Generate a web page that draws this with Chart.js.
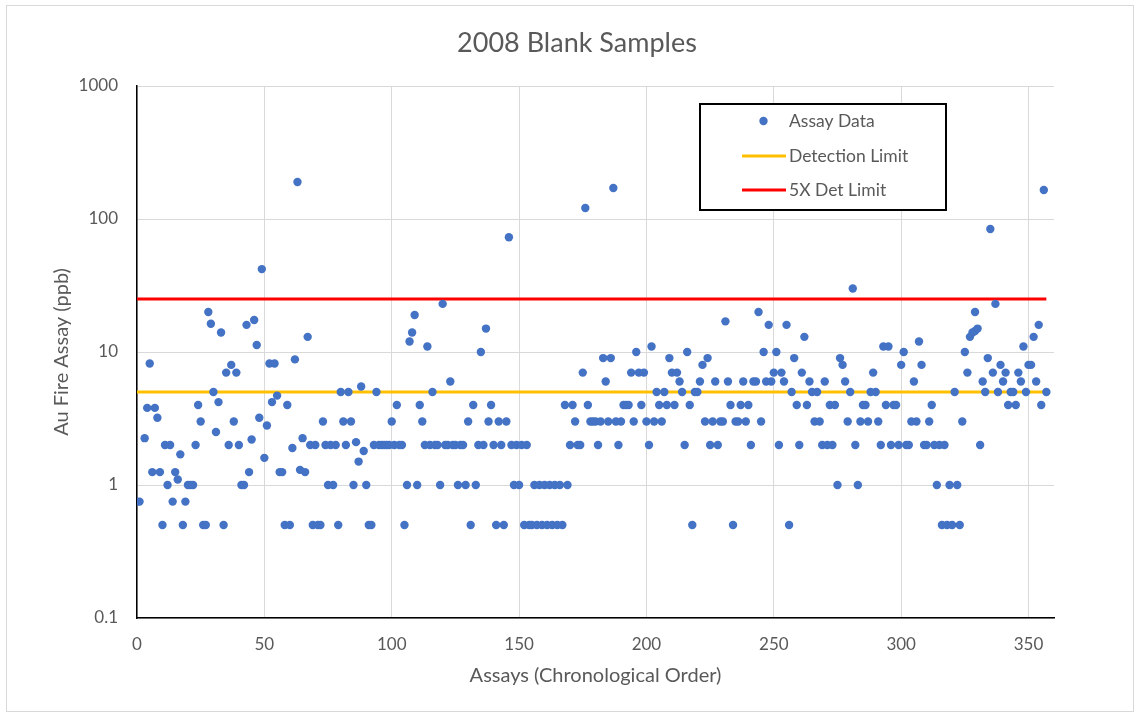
<!DOCTYPE html>
<html><head><meta charset="utf-8">
<script src="https://cdn.jsdelivr.net/npm/chart.js@4.4.0/dist/chart.umd.min.js"></script>
<style>html,body{margin:0;padding:0;background:#fff;}canvas{display:block}</style>
</head><body><canvas id="c" width="1140" height="717"></canvas>
<script>
const assayNo = [0,1,3,4,5,6,7,8,9,
10,11,12,13,14,15,16,17,18,19,
20,21,22,23,24,25,26,27,28,29,
30,31,32,33,34,35,36,37,38,39,
40,41,42,43,44,45,46,47,48,49,
50,51,52,53,54,55,56,57,58,59,
60,61,62,63,64,65,66,67,68,69,
70,71,72,73,74,75,76,77,78,79,
80,81,82,83,84,85,86,87,88,89,
90,91,92,93,94,95,96,97,98,99,
100,101,102,103,104,105,106,107,108,109,
110,111,112,113,114,115,116,117,118,119,
120,121,122,123,124,125,126,127,128,129,
130,131,132,133,134,135,136,137,138,139,
140,141,142,143,144,145,146,147,148,149,
150,151,152,153,154,155,156,157,158,159,
160,161,162,163,164,165,166,167,168,169,
170,171,172,173,174,175,176,177,178,179,
180,181,182,183,184,185,186,187,188,189,
190,191,192,193,194,195,196,197,198,199,
200,201,202,203,204,205,206,207,208,209,
210,211,212,213,214,215,216,217,218,219,
220,221,222,223,224,225,226,227,228,229,
230,231,232,233,234,235,236,237,238,239,
240,241,242,243,244,245,246,247,248,249,
250,251,252,253,254,255,256,257,258,259,
260,261,262,263,264,265,266,267,268,269,
270,271,272,273,274,275,276,277,278,279,
280,281,282,283,284,285,286,287,288,289,
290,291,292,293,294,295,296,297,298,299,
300,301,302,303,304,305,306,307,308,309,
310,311,312,313,314,315,316,317,318,319,
320,321,322,323,324,325,326,327,328,
329,329,
330,331,332,333,334,335,336,337,338,339,
340,341,342,343,344,345,346,347,348,349,
350,351,352,353,354,355,356,357];
const auPpb = [0.75,0.75,2.25,3.8,8.2,1.25,3.8,3.2,1.25,
0.5,2,1,2,0.75,1.25,1.1,1.7,0.5,0.75,
1,1,1,2,4,3,0.5,0.5,20,16.3,
5,2.5,4.2,14,0.5,7,2,8,3,7,
2,1,1,16,1.25,2.2,17.4,11.3,3.2,42,
1.6,2.8,8.2,4.2,8.2,4.7,1.25,1.25,0.5,4,
0.5,1.9,8.8,190,1.3,2.25,1.25,13,2,0.5,
2,0.5,0.5,3,2,1,2,1,2,0.5,
5,3,2,5,3,1,2.1,1.5,5.5,1.8,
1,0.5,0.5,2,5,2,2,2,2,2,
3,2,4,2,2,0.5,1,12,14,19,
1,4,3,2,11,2,5,2,2,1,
23,2,2,6,2,2,1,2,2,1,
3,0.5,4,1,2,10,2,15,3,4,
2,0.5,3,2,0.5,3,73,2,1,2,
1,2,0.5,2,0.5,0.5,1,0.5,1,0.5,
1,0.5,1,0.5,1,0.5,1,0.5,4,1,
2,4,3,2,2,7,121,4,3,3,
3,2,3,9,6,3,9,171,3,2,
3,4,4,4,7,3,10,7,4,7,
3,2,11,3,5,4,3,5,4,9,
7,4,7,6,5,2,10,4,0.5,5,
5,6,8,3,9,2,3,6,2,3,
3,17,6,4,0.5,3,3,4,6,3,
4,2,6,6,20,3,10,6,16,6,
7,10,2,7,6,16,0.5,5,9,4,
2,7,13,4,6,5,3,5,3,2,
6,2,4,2,4,1,9,8,6,3,
5,30,2,1,3,4,4,3,5,7,
5,3,2,11,4,11,2,4,4,2,
8,10,2,2,3,6,3,12,8,2,
2,3,4,2,1,2,0.5,2,0.5,1,
0.5,5,1,0.5,3,10,7,13,14,
14.4,20,
15,2,6,5,9,84,7,23,5,8,
6,7,4,5,5,4,7,6,11,5,
8,8,13,6,16,4,165,5];
const detectionLimit = 5;
const fiveXDetLimit = 25;
const limitSpan = [0, 357];
const xTickValues = [0,50,100,150,200,250,300,350];
const yTickValues = [0.1,1,10,100,1000];
const seriesNames = ['Assay Data','Detection Limit','5X Det Limit'];
const chartTitle = '2008 Blank Samples';

const TXT = '#595959';
const FONT = 'Lato';
Chart.defaults.font.family = FONT;
Chart.defaults.color = TXT;

const frame = {
  id:'frame',
  beforeDraw(chart){
    const ctx = chart.ctx;
    ctx.save();
    ctx.fillStyle = '#fff';
    ctx.fillRect(0,0,chart.width,chart.height);
    ctx.strokeStyle = '#d9d9d9';
    ctx.lineWidth = 1;
    ctx.strokeRect(6.5,5.5,1127,706);
    ctx.fillStyle = TXT;
    ctx.font = '27px ' + FONT;
    ctx.textAlign = 'center';
    ctx.textBaseline = 'middle';
    ctx.fillText(chartTitle, 577, 43);
    ctx.restore();
  }
};

const legendBox = {
  id:'legendBox',
  afterDraw(chart){
    const ctx = chart.ctx;
    const ds = chart.data.datasets;
    const x0 = 700, y0 = 104, w = 246, h = 106;
    ctx.save();
    ctx.fillStyle = '#fff';
    ctx.fillRect(x0,y0,w,h);
    ctx.strokeStyle = '#000';
    ctx.lineWidth = 2;
    ctx.strokeRect(x0,y0,w,h);
    const rows = [121,156,190];
    ctx.fillStyle = ds[0].backgroundColor;
    ctx.beginPath(); ctx.arc(763.5, rows[0], 4.2, 0, Math.PI*2); ctx.fill();
    ctx.lineWidth = 3;
    ctx.strokeStyle = ds[1].borderColor;
    ctx.beginPath(); ctx.moveTo(742, rows[1]); ctx.lineTo(786, rows[1]); ctx.stroke();
    ctx.strokeStyle = ds[2].borderColor;
    ctx.beginPath(); ctx.moveTo(742, rows[2]); ctx.lineTo(786, rows[2]); ctx.stroke();
    ctx.fillStyle = TXT;
    ctx.font = '17.5px ' + FONT;
    ctx.textBaseline = 'middle';
    ctx.textAlign = 'left';
    ds.forEach((d,i)=> ctx.fillText(d.label, 789, rows[i]));
    ctx.restore();
  }
};

new Chart(document.getElementById('c'), {
  type:'scatter',
  data:{
    datasets:[
      {
        label: seriesNames[0],
        data: assayNo.map((x,i)=>({x:x, y:auPpb[i]})),
        backgroundColor:'#4472C4',
        borderColor:'#4472C4',
        borderWidth:0,
        pointRadius:4.2,
        pointHoverRadius:4.2,
        order:0
      },
      {
        label: seriesNames[1],
        type:'line',
        data: limitSpan.map(x=>({x:x, y:detectionLimit})),
        borderColor:'#FFC000',
        borderWidth:3,
        pointRadius:0,
        showLine:true,
        order:1
      },
      {
        label: seriesNames[2],
        type:'line',
        data: limitSpan.map(x=>({x:x, y:fiveXDetLimit})),
        borderColor:'#FF0000',
        borderWidth:3,
        pointRadius:0,
        showLine:true,
        order:2
      }
    ]
  },
  options:{
    responsive:false,
    animation:false,
    devicePixelRatio:1,
    layout:{padding:{left:46, right:86, top:86, bottom:25}},
    plugins:{
      legend:{display:false},
      tooltip:{enabled:false},
      title:{display:false}
    },
    scales:{
      x:{
        type:'linear', min:0, max:360,
        afterBuildTicks:s=>{ s.ticks = xTickValues.map(v=>({value:v})); },
        afterFit:s=>{ s.height = 74; },
        ticks:{color:TXT, font:{size:17}, padding:16, maxRotation:0},
        grid:{color:'#d9d9d9', lineWidth:1, drawTicks:false},
        border:{color:'#000', width:1.5},
        title:{display:true, text:'Assays (Chronological Order)', color:TXT, font:{size:20}, padding:4}
      },
      y:{
        type:'logarithmic', min:0.1, max:1000,
        afterBuildTicks:s=>{ s.ticks = yTickValues.map(v=>({value:v})); },
        afterFit:s=>{ s.width = 91; },
        ticks:{color:TXT, font:{size:17}, padding:19, callback:v=>String(v)},
        grid:{color:'#d9d9d9', lineWidth:1, drawTicks:false},
        border:{color:'#000', width:1.5},
        title:{display:true, text:'Au Fire Assay (ppb)', color:TXT, font:{size:20}, padding:4}
      }
    }
  },
  plugins:[frame, legendBox]
});
</script>
</body></html>
